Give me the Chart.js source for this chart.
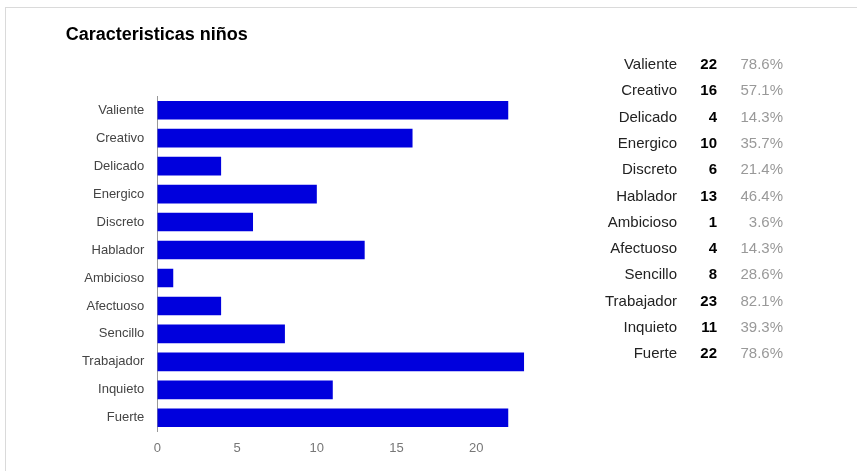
<!DOCTYPE html>
<html>
<head>
<meta charset="utf-8">
<script src="https://cdn.jsdelivr.net/npm/chart.js@4"></script>
<style>
  html, body { margin: 0; padding: 0; background: #fff; }
  body { width: 857px; height: 471px; position: relative; overflow: hidden; font-family: Arial, "Liberation Sans", sans-serif; }
  #frame { position: absolute; left: 5px; top: 7px; right: -2px; bottom: -2px; border-top: 1px solid #dadada; border-left: 1px solid #dadada; }
  #wrap { position: absolute; left: 0; top: 0; width: 560px; height: 471px; }
  #summary { position: absolute; left: 0; top: 0; width: 857px; height: 471px; }
  .row { position: absolute; height: 20px; line-height: 20px; font-size: 15px; white-space: nowrap; }
  .lbl { color: #222; text-align: right; }
  .cnt { color: #000; font-weight: bold; text-align: right; }
  .pct { color: #999; text-align: right; }
</style>
</head>
<body>
<div id="frame"></div>
<div id="wrap"><canvas id="c" width="560" height="471"></canvas></div>
<div id="summary"></div>
<script>
// Survey answers: traits chosen for boys
const traits = ['Valiente', 'Creativo', 'Delicado', 'Energico', 'Discreto', 'Hablador',
                'Ambicioso', 'Afectuoso', 'Sencillo', 'Trabajador', 'Inquieto', 'Fuerte'];
const counts = [22, 16, 4, 10, 6, 13, 1, 4, 8, 23, 11, 22];
const respondents = 28;
const xTicks = [0, 5, 10, 15, 20];
const chartTitle = 'Caracteristicas niños';

const AXIS_LEFT = 157.3;
const PAD_LEFT = 65.7;

new Chart(document.getElementById('c'), {
  type: 'bar',
  data: {
    labels: traits,
    datasets: [{
      data: counts,
      backgroundColor: '#0000dd',
      borderWidth: 0,
      barPercentage: 0.665,
      categoryPercentage: 1
    }]
  },
  options: {
    indexAxis: 'y',
    responsive: false,
    animation: false,
    layout: { padding: { left: PAD_LEFT, right: 35.8, top: 0, bottom: 0 } },
    plugins: {
      legend: { display: false },
      tooltip: { enabled: false },
      title: {
        display: true,
        text: chartTitle,
        align: 'start',
        color: '#000',
        font: { family: 'Arial, "Liberation Sans", sans-serif', size: 18, weight: 'bold', lineHeight: 1.2 },
        padding: { top: 24, bottom: 50.6 }
      }
    },
    scales: {
      x: {
        min: 0,
        max: 23,
        afterBuildTicks: (s) => { s.ticks = xTicks.map(v => ({ value: v })); },
        afterFit: (s) => { s.height = 39.2; },
        grid: { display: false, drawTicks: false },
        border: { display: false },
        ticks: {
          padding: 9,
          color: '#777',
          font: { family: 'Arial, "Liberation Sans", sans-serif', size: 13 }
        }
      },
      y: {
        afterFit: (s) => { s.width = AXIS_LEFT - PAD_LEFT; },
        grid: { display: false, drawTicks: false },
        border: { display: true, color: '#999', width: 1 },
        ticks: {
          padding: 13,
          color: '#444',
          font: { family: 'Arial, "Liberation Sans", sans-serif', size: 13 }
        }
      }
    }
  }
});

// Summary table to the right: trait, count, share of respondents
const summary = document.getElementById('summary');
const ROW_TOP = 64, ROW_STEP = 26.3;
traits.forEach((t, i) => {
  const cy = ROW_TOP + i * ROW_STEP;
  const cells = [
    { cls: 'lbl', text: t, right: 677 },
    { cls: 'cnt', text: String(counts[i]), right: 717 },
    { cls: 'pct', text: (counts[i] / respondents * 100).toFixed(1) + '%', right: 783 }
  ];
  cells.forEach(c => {
    const d = document.createElement('div');
    d.className = 'row ' + c.cls;
    d.textContent = c.text;
    d.style.top = (cy - 10) + 'px';
    d.style.right = (857 - c.right) + 'px';
    summary.appendChild(d);
  });
});
</script>
</body>
</html>
